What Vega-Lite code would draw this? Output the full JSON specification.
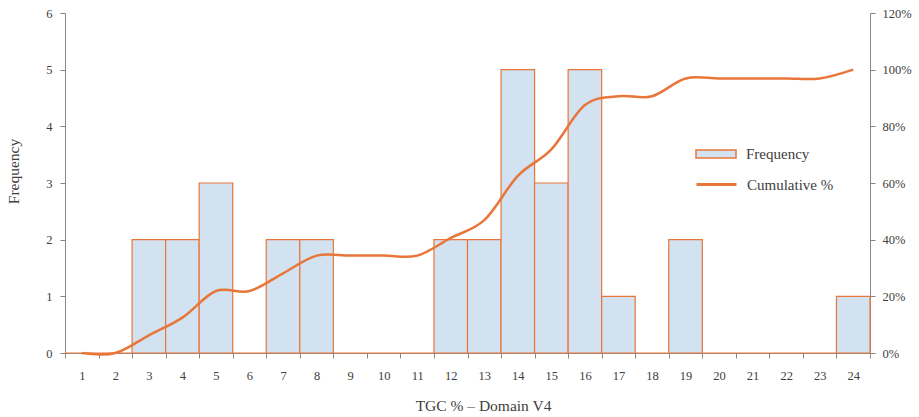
{
  "$schema": "https://vega.github.io/schema/vega-lite/v6.json",
  "width": 805,
  "height": 340,
  "autosize": {"type": "none"},
  "padding": {"left": 65, "top": 13, "right": 49, "bottom": 64},
  "background": "white",
  "config": {
    "view": {"stroke": null},
    "font": "Liberation Serif",
    "axis": {
      "labelFont": "Liberation Serif",
      "titleFont": "Liberation Serif",
      "labelColor": "#404040",
      "titleColor": "#404040",
      "domainColor": "#888888",
      "tickColor": "#888888",
      "labelFontSize": 12.5,
      "titleFontSize": 15.5,
      "titleFontWeight": "normal",
      "grid": false,
      "tickSize": 5,
      "labelOverlap": false
    },
    "legend": {
      "labelFont": "Liberation Serif",
      "labelFontSize": 15,
      "labelColor": "#404040"
    }
  },
  "data": {
    "values": [
      {"bin": "1", "freq": 0, "cum": 0},
      {"bin": "2", "freq": 0, "cum": 0},
      {"bin": "3", "freq": 2, "cum": 0.0625},
      {"bin": "4", "freq": 2, "cum": 0.125},
      {"bin": "5", "freq": 3, "cum": 0.21875},
      {"bin": "6", "freq": 0, "cum": 0.21875},
      {"bin": "7", "freq": 2, "cum": 0.28125},
      {"bin": "8", "freq": 2, "cum": 0.34375},
      {"bin": "9", "freq": 0, "cum": 0.34375},
      {"bin": "10", "freq": 0, "cum": 0.34375},
      {"bin": "11", "freq": 0, "cum": 0.34375},
      {"bin": "12", "freq": 2, "cum": 0.40625},
      {"bin": "13", "freq": 2, "cum": 0.46875},
      {"bin": "14", "freq": 5, "cum": 0.625},
      {"bin": "15", "freq": 3, "cum": 0.71875},
      {"bin": "16", "freq": 5, "cum": 0.875},
      {"bin": "17", "freq": 1, "cum": 0.90625},
      {"bin": "18", "freq": 0, "cum": 0.90625},
      {"bin": "19", "freq": 2, "cum": 0.96875},
      {"bin": "20", "freq": 0, "cum": 0.96875},
      {"bin": "21", "freq": 0, "cum": 0.96875},
      {"bin": "22", "freq": 0, "cum": 0.96875},
      {"bin": "23", "freq": 0, "cum": 0.96875},
      {"bin": "24", "freq": 1, "cum": 1}
    ]
  },
  "encoding": {
    "x": {
      "field": "bin",
      "type": "ordinal",
      "sort": null,
      "scale": {"paddingInner": 0, "paddingOuter": 0},
      "axis": {
        "title": "TGC % – Domain V4",
        "labelAngle": 0,
        "tickBand": "extent",
        "labelPadding": 11,
        "titlePadding": 17,
        "titleX": 418,
        "labelOverlap": false
      }
    }
  },
  "layer": [
    {
      "mark": {"type": "bar", "stroke": "#e8763a", "strokeWidth": 1.2},
      "encoding": {
        "y": {
          "field": "freq",
          "type": "quantitative",
          "scale": {"domain": [0, 6]},
          "axis": {
            "title": "Frequency",
            "orient": "left",
            "values": [0, 1, 2, 3, 4, 5, 6],
            "format": "d",
            "labelOverlap": false,
            "labelPadding": 8,
            "titlePadding": 24,
            "titleY": 158
          }
        },
        "fill": {
          "datum": "Frequency",
          "type": "nominal",
          "scale": {"range": ["#d2e2f0"]},
          "legend": {
            "title": null,
            "orient": "none",
            "legendX": 630,
            "legendY": 120,
            "padding": 0,
            "symbolType": "M-1,-0.2H1V0.2H-1Z",
            "symbolSize": 1600,
            "symbolStrokeColor": "#e8763a",
            "symbolStrokeWidth": 1.5,
            "symbolOpacity": 1,
            "labelOffset": 9
          }
        }
      }
    },
    {
      "mark": {"type": "line", "interpolate": "cardinal", "tension": 0, "strokeWidth": 2.5},
      "encoding": {
        "y": {
          "field": "cum",
          "type": "quantitative",
          "scale": {"domain": [0, 1.2]},
          "axis": {
            "title": null,
            "orient": "right",
            "format": ".0%",
            "values": [0, 0.2, 0.4, 0.6, 0.8, 1.0, 1.2],
            "labelOverlap": false,
            "labelPadding": 7
          }
        },
        "stroke": {
          "datum": "Cumulative %",
          "type": "nominal",
          "scale": {"range": ["#e8763a"]},
          "legend": {
            "title": null,
            "orient": "none",
            "legendX": 630,
            "legendY": 150,
            "padding": 0,
            "symbolType": "stroke",
            "symbolSize": 1600,
            "symbolStrokeWidth": 3,
            "labelOffset": 9
          }
        }
      }
    }
  ],
  "resolve": {"scale": {"y": "independent"}}
}
